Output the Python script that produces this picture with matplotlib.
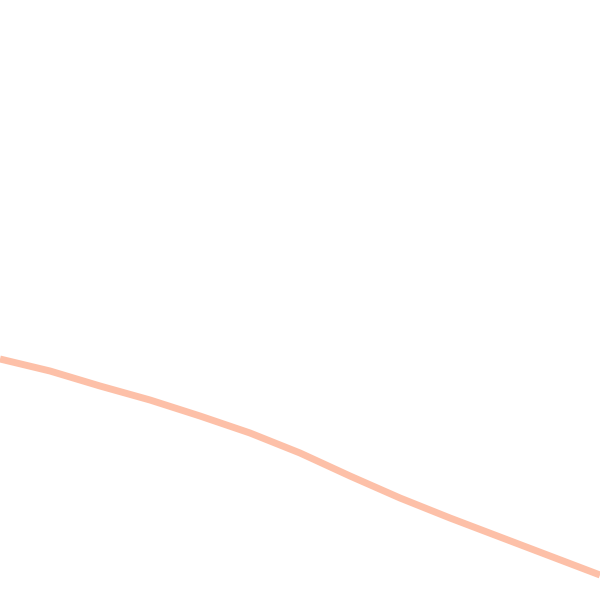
import numpy as np
import matplotlib
matplotlib.use('Agg')
import matplotlib.pyplot as plt

# values (pixel-like units, y grows downwards)
x_vals = [0, 50, 100, 150, 200, 250, 300, 350, 400, 450, 500, 550, 600]
y_vals = [359, 371, 386, 400, 416, 433, 453, 476, 498, 518, 537, 556, 575]

line_color = '#fdc0a8'

fig = plt.figure(figsize=(6, 6), dpi=100)
ax = fig.add_axes([0, 0, 1, 1])
ax.plot(x_vals, y_vals, color=line_color, lw=5, solid_capstyle='butt')
ax.set_xlim(0, 600)
ax.set_ylim(600, 0)
ax.axis('off')

fig.savefig('out.png', dpi=100)
